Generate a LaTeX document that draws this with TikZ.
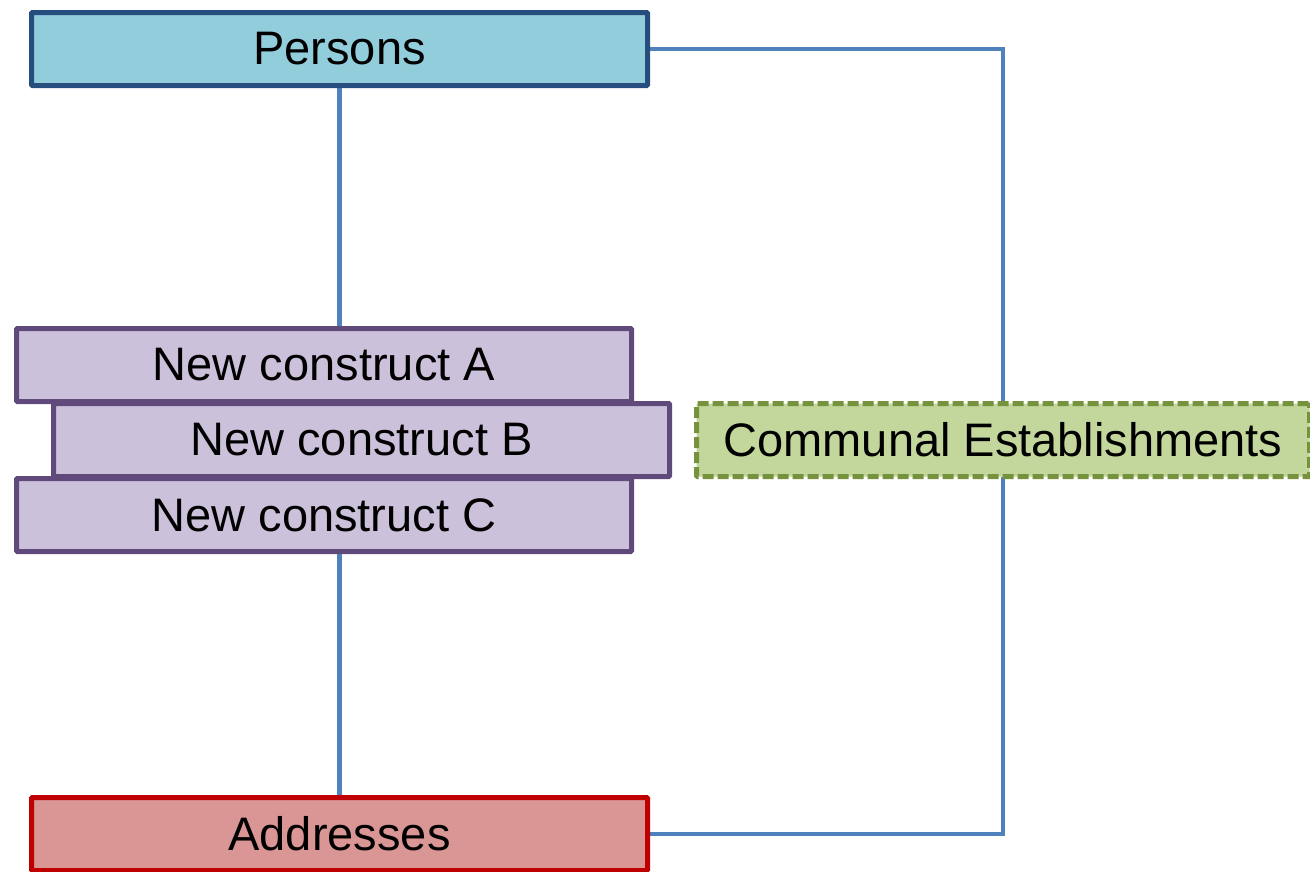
\documentclass[tikz,border=0pt]{standalone}
\usepackage{fontspec}
\setmainfont{Liberation Sans}
\usetikzlibrary{backgrounds}
\definecolor{pfill}{HTML}{92CDDC}
\definecolor{pdraw}{HTML}{254E7F}
\definecolor{nfill}{HTML}{CCC1DA}
\definecolor{ndraw}{HTML}{604A7B}
\definecolor{cfill}{HTML}{C3D69B}
\definecolor{cdraw}{HTML}{76923C}
\definecolor{afill}{HTML}{D99694}
\definecolor{adraw}{HTML}{C00000}
\definecolor{link}{HTML}{4F81BD}
\tikzset{
  box/.style={rectangle, line width=5pt, rounded corners=1pt, inner sep=0pt, outer sep=0pt,
    minimum height=73pt, font=\fontsize{47}{56}\selectfont},
  conn/.style={draw=link, line width=4.5pt}
}
\begin{document}
\begin{tikzpicture}[x=1pt,y=-1pt]
\useasboundingbox (0,0) rectangle (1310,871);
\clip (0,0) rectangle (1310,871);
\node[box, fill=pfill, draw=pdraw, minimum width=616pt] (P) at (339.5,49) {Persons};
\node[box, fill=nfill, draw=ndraw, minimum width=615pt] (A) at (324,365) {New construct A};
\node[box, fill=nfill, draw=ndraw, minimum width=616pt] (B) at (361.5,440) {New construct B};
\node[box, fill=nfill, draw=ndraw, minimum width=615pt] (C) at (324,515) {New construct C};
\node[box, fill=cfill, draw=cdraw, dash pattern=on 11pt off 4pt, minimum width=613pt] (CE) at (1003,440) {Communal Establishments};
\node[box, fill=afill, draw=adraw, minimum width=616pt] (Ad) at (339.5,834) {Addresses};
\begin{scope}[on background layer]
\draw[conn] (P.south) -- (P.south |- A.north);
\draw[conn] (Ad.north) -- (Ad.north |- C.south);
\draw[conn] (P.east) -| (CE.north);
\draw[conn] (Ad.east) -| (CE.south);
\end{scope}
\end{tikzpicture}
\end{document}
